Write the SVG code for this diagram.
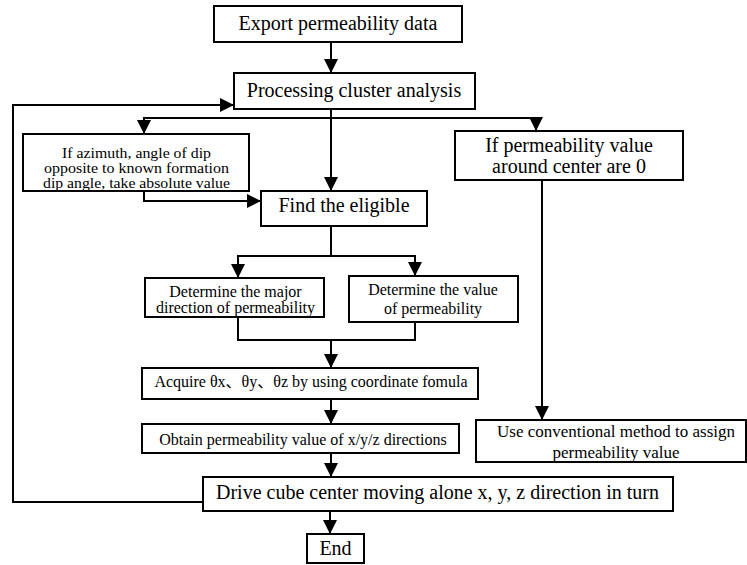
<svg xmlns="http://www.w3.org/2000/svg" width="747" height="565" viewBox="0 0 747 565">
<style>
  rect.box { fill: #fff; stroke: #000; stroke-width: 2; }
  .c { fill: none; stroke: #000; stroke-width: 2; }
  text { font-family: "Liberation Serif", "Times New Roman", "Noto Sans CJK SC", serif; fill: #000; text-anchor: middle; }
  .l { font-size: 20px; }
  .s { font-size: 16px; }
  .t { font-size: 15px; }
  .m { font-size: 17px; }
</style>
<defs>
  <marker id="ah" viewBox="0 0 14 14" refX="14" refY="7" markerWidth="14" markerHeight="14" markerUnits="userSpaceOnUse" orient="auto">
    <path d="M0,0 L14,7 L0,14 Z" fill="#000"/>
  </marker>
</defs>
<rect width="747" height="565" fill="#fff"/>
<g id="connectors">
  <path class="c" d="M331,42 V73" marker-end="url(#ah)"/>
  <path class="c" d="M331,109 V191" marker-end="url(#ah)"/>
  <path class="c" d="M331,118 H144 V134" marker-end="url(#ah)"/>
  <path class="c" d="M331,118 H536 V131" marker-end="url(#ah)"/>
  <path class="c" d="M144,191 V201 H261" marker-end="url(#ah)"/>
  <path class="c" d="M542,180 V420" marker-end="url(#ah)"/>
  <path class="c" d="M331,226 V256"/>
  <path class="c" d="M331,256 H238 V278" marker-end="url(#ah)"/>
  <path class="c" d="M331,256 H415 V276" marker-end="url(#ah)"/>
  <path class="c" d="M238,317 V340 H415 V322"/>
  <path class="c" d="M331,340 V368" marker-end="url(#ah)"/>
  <path class="c" d="M331,399 V424" marker-end="url(#ah)"/>
  <path class="c" d="M331,453 V477" marker-end="url(#ah)"/>
  <path class="c" d="M330,511 V534" marker-end="url(#ah)"/>
  <path class="c" d="M203,502 H13 V105 H234" marker-end="url(#ah)"/>
</g>
<g id="export">
  <rect class="box" x="214" y="6" width="248" height="36"/>
  <text class="l" x="338" y="30">Export permeability data</text>
</g>
<g id="processing">
  <rect class="box" x="234" y="73" width="241" height="36"/>
  <text class="l" x="354" y="97">Processing cluster analysis</text>
</g>
<g id="azimuth">
  <rect class="box" x="23" y="134" width="226" height="57"/>
  <text class="t" x="136.5" y="158" textLength="149" lengthAdjust="spacingAndGlyphs">If azimuth, angle of dip</text>
  <text class="t" x="136.5" y="173" textLength="185" lengthAdjust="spacingAndGlyphs">opposite to known formation</text>
  <text class="t" x="136.5" y="188" textLength="187" lengthAdjust="spacingAndGlyphs">dip angle, take absolute value</text>
</g>
<g id="find">
  <rect class="box" x="261" y="191" width="166" height="35"/>
  <text class="l" x="344" y="212">Find the eligible</text>
</g>
<g id="zero">
  <rect class="box" x="455" y="131" width="228" height="49"/>
  <text class="l" x="569" y="152">If permeability value</text>
  <text class="l" x="569" y="173">around center are 0</text>
</g>
<g id="direction">
  <rect class="box" x="145" y="278" width="179" height="39"/>
  <text class="s" x="235.5" y="297">Determine the major</text>
  <text class="s" x="235.5" y="313">direction of permeability</text>
</g>
<g id="value">
  <rect class="box" x="349" y="276" width="169" height="46"/>
  <text class="s" x="433" y="295">Determine the value</text>
  <text class="s" x="433" y="314">of permeability</text>
</g>
<g id="acquire">
  <rect class="box" x="142" y="368" width="336" height="31"/>
  <text class="s" x="311" y="387">Acquire θx、θy、θz by using coordinate fomula</text>
</g>
<g id="obtain">
  <rect class="box" x="142" y="424" width="317" height="29"/>
  <text class="s" x="303" y="445">Obtain permeability value of x/y/z directions</text>
</g>
<g id="conventional">
  <rect class="box" x="476" y="420" width="270" height="42"/>
  <text class="m" x="616" y="437">Use conventional method to assign</text>
  <text class="m" x="616" y="458">permeability value</text>
</g>
<g id="drive">
  <rect class="box" x="203" y="477" width="470" height="34"/>
  <text class="l" x="437.5" y="499">Drive cube center moving alone x, y, z direction in turn</text>
</g>
<g id="end">
  <rect class="box" x="307" y="534" width="57" height="29"/>
  <text class="l" x="335.5" y="555">End</text>
</g>
</svg>
